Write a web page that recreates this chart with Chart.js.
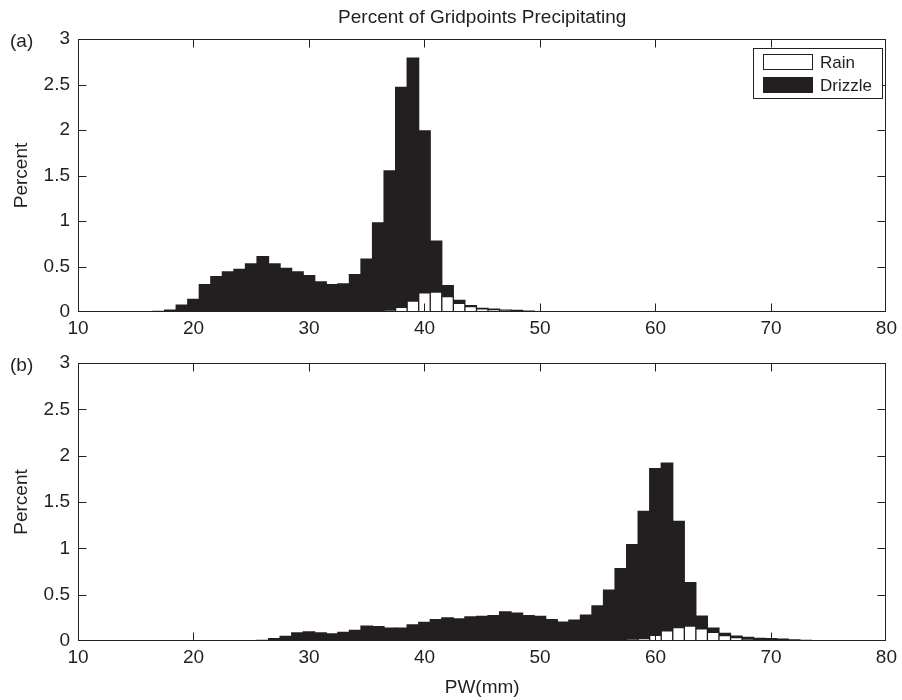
<!DOCTYPE html>
<html>
<head>
<meta charset="utf-8">
<title>Percent of Gridpoints Precipitating</title>
<script src="https://cdn.jsdelivr.net/npm/chart.js@4.4.1/dist/chart.umd.min.js"></script>
<style>
  html, body { margin: 0; padding: 0; background: #ffffff; }
  #wrap { position: relative; width: 902px; height: 700px; }
  .panel { position: absolute; left: 0; width: 902px; }
  #panelA { top: 0; height: 340px; }
  #panelB { top: 340px; height: 360px; }
</style>
</head>
<body>
<div id="wrap">
  <div class="panel" id="panelA"><canvas id="chartA"></canvas></div>
  <div class="panel" id="panelB"><canvas id="chartB"></canvas></div>
</div>
<script>
// PW bin centres (mm), 1 mm bins
const pwBins = [
  10, 11, 12, 13, 14, 15, 16, 17, 18, 19,
  20, 21, 22, 23, 24, 25, 26, 27, 28, 29,
  30, 31, 32, 33, 34, 35, 36, 37, 38, 39,
  40, 41, 42, 43, 44, 45, 46, 47, 48, 49,
  50, 51, 52, 53, 54, 55, 56, 57, 58, 59,
  60, 61, 62, 63, 64, 65, 66, 67, 68, 69,
  70, 71, 72, 73, 74, 75, 76, 77, 78, 79,
  80
];
const xTicks = [10, 20, 30, 40, 50, 60, 70, 80];
const yTicks = [0, 0.5, 1, 1.5, 2, 2.5, 3];
const seriesNames = ['Rain', 'Drizzle'];

// Panel (a)
const drizzleA = [
  0, 0, 0, 0, 0, 0, 0, 0.007, 0.02, 0.077,
  0.14, 0.30, 0.39, 0.44, 0.47, 0.53, 0.61, 0.53, 0.48, 0.44,
  0.40, 0.33, 0.30, 0.31, 0.41, 0.58, 0.98, 1.55, 2.47, 2.79,
  1.99, 0.78, 0.29, 0.128, 0.07, 0.04, 0.033, 0.022, 0.018, 0.011,
  0.005, 0, 0, 0, 0, 0, 0, 0, 0, 0,
  0, 0, 0, 0, 0, 0, 0, 0, 0, 0,
  0, 0, 0, 0, 0, 0, 0, 0, 0, 0,
  0
];
const rainA = [
  0, 0, 0, 0, 0, 0, 0, 0, 0, 0,
  0, 0, 0, 0, 0, 0, 0, 0, 0, 0,
  0, 0, 0, 0, 0, 0, 0.005, 0.022, 0.05, 0.12,
  0.21, 0.22, 0.17, 0.095, 0.06, 0.035, 0.026, 0.018, 0.01, 0.005,
  0, 0, 0, 0, 0, 0, 0, 0, 0, 0,
  0, 0, 0, 0, 0, 0, 0, 0, 0, 0,
  0, 0, 0, 0, 0, 0, 0, 0, 0, 0,
  0
];

// Panel (b)
const drizzleB = [
  0, 0, 0, 0, 0, 0, 0, 0, 0, 0,
  0, 0, 0, 0, 0, 0.003, 0.007, 0.025, 0.05, 0.087,
  0.098, 0.087, 0.076, 0.094, 0.116, 0.16, 0.156, 0.14, 0.14, 0.174,
  0.20, 0.23, 0.25, 0.24, 0.26, 0.265, 0.275, 0.315, 0.30, 0.275,
  0.265, 0.23, 0.205, 0.225, 0.28, 0.38, 0.55, 0.78, 1.04, 1.40,
  1.86, 1.92, 1.29, 0.63, 0.27, 0.14, 0.083, 0.054, 0.04, 0.029,
  0.025, 0.02, 0.012, 0.008, 0.005, 0, 0, 0, 0, 0,
  0
];
const rainB = [
  0, 0, 0, 0, 0, 0, 0, 0, 0, 0,
  0, 0, 0, 0, 0, 0, 0, 0, 0, 0,
  0, 0, 0, 0, 0, 0, 0, 0, 0, 0,
  0, 0, 0, 0, 0, 0, 0, 0, 0, 0,
  0, 0, 0, 0, 0, 0, 0, 0.005, 0.018, 0.025,
  0.06, 0.11, 0.145, 0.16, 0.13, 0.094, 0.058, 0.036, 0.022, 0.011,
  0.007, 0.004, 0.002, 0, 0, 0, 0, 0, 0, 0,
  0
];

const INK = '#231f20';
const FAMILY = "'Liberation Sans', Arial, Helvetica, sans-serif";

Chart.defaults.font.family = FAMILY;
Chart.defaults.font.size = 19;
Chart.defaults.color = INK;

// empty bins are left out so they leave no stray marks on the axis
const toPoints = vals => pwBins
  .map((x, i) => ({ x: x, y: vals[i] }))
  .filter(p => p.y > 0);

const clamp = (v, lo, hi) => Math.min(Math.max(v, lo), hi);

// MATLAB-like box with inward ticks, panel letter, title and legend
const matlabAxes = {
  id: 'matlabAxes',
  afterDraw(chart, args, opts) {
    const ctx = chart.ctx;
    const a = chart.chartArea;
    const xs = chart.scales.x;
    const ys = chart.scales.y;
    const L = Math.round(a.left) + 0.5;
    const R = Math.round(a.right) - 0.5;
    const T = Math.round(a.top) + 0.5;
    const B = Math.round(a.bottom) - 0.5;

    ctx.save();
    ctx.strokeStyle = INK;
    ctx.lineWidth = 1;
    ctx.strokeRect(L, T, R - L, B - T);

    ctx.beginPath();
    xs.ticks.forEach(t => {
      const px = clamp(Math.round(xs.getPixelForValue(t.value)) + 0.5, L, R);
      ctx.moveTo(px, B); ctx.lineTo(px, B - 8);
      ctx.moveTo(px, T); ctx.lineTo(px, T + 8);
    });
    ys.ticks.forEach(t => {
      const py = clamp(Math.round(ys.getPixelForValue(t.value)) + 0.5, T, B);
      ctx.moveTo(L, py); ctx.lineTo(L + 8, py);
      ctx.moveTo(R, py); ctx.lineTo(R - 8, py);
    });
    ctx.stroke();

    ctx.fillStyle = INK;
    ctx.font = '19px ' + FAMILY;
    ctx.textBaseline = 'middle';
    ctx.textAlign = 'left';
    ctx.fillText(opts.letter, 10, a.top + 3);

    if (opts.title) {
      ctx.textAlign = 'center';
      ctx.fillText(opts.title, (a.left + a.right) / 2, 18);
    }

    if (opts.legend) {
      const lg = { x: 753, y: 48, w: 129, h: 50 };
      ctx.fillStyle = '#ffffff';
      ctx.fillRect(lg.x, lg.y, lg.w, lg.h);
      ctx.strokeRect(lg.x + 0.5, lg.y + 0.5, lg.w, lg.h);
      ctx.font = '17px ' + FAMILY;
      chart.data.datasets.forEach((ds, i) => {
        const cy = lg.y + 14 + i * 23;
        ctx.fillStyle = ds.backgroundColor;
        ctx.fillRect(763, cy - 8, 50, 16);
        ctx.strokeRect(763.5, cy - 7.5, 49, 15);
        ctx.fillStyle = INK;
        ctx.textAlign = 'left';
        ctx.fillText(ds.label, 820, cy + 1);
      });
    }
    ctx.restore();
  }
};

function makePanel(canvasId, rain, drizzle, cfg) {
  return new Chart(document.getElementById(canvasId), {
    type: 'bar',
    data: {
      datasets: [
        {
          label: seriesNames[0],
          data: toPoints(rain),
          backgroundColor: '#ffffff',
          borderColor: INK,
          borderWidth: 1,
          grouped: false,
          categoryPercentage: 1,
          barPercentage: 1
        },
        {
          label: seriesNames[1],
          data: toPoints(drizzle),
          backgroundColor: INK,
          borderWidth: 0,
          inflateAmount: 0.6,
          grouped: false,
          categoryPercentage: 1,
          barPercentage: 1
        }
      ]
    },
    options: {
      responsive: true,
      maintainAspectRatio: false,
      animation: false,
      events: [],
      layout: { padding: { top: cfg.padTop, right: 13, left: 0, bottom: 0 } },
      plugins: {
        legend: { display: false },
        tooltip: { enabled: false },
        title: { display: false },
        matlabAxes: { letter: cfg.letter, title: cfg.title, legend: cfg.legend }
      },
      scales: {
        x: {
          type: 'linear',
          min: 10,
          max: 80,
          offset: false,
          grid: { display: false, drawTicks: false, offset: false },
          border: { display: false },
          afterBuildTicks: s => { s.ticks = xTicks.map(v => ({ value: v })); },
          afterFit: s => { s.height = cfg.xHeight; },
          ticks: { padding: 5, maxRotation: 0, autoSkip: false, color: INK },
          title: {
            display: !!cfg.xTitle,
            text: cfg.xTitle || '',
            color: INK,
            font: { size: 19 },
            padding: { top: 0, bottom: 1 }
          }
        },
        y: {
          min: 0,
          max: 3,
          grid: { display: false, drawTicks: false },
          border: { display: false },
          afterBuildTicks: s => { s.ticks = yTicks.map(v => ({ value: v })); },
          afterFit: s => { s.width = 78; },
          ticks: { padding: 8, color: INK, callback: v => String(v) },
          title: {
            display: true,
            text: 'Percent',
            color: INK,
            font: { size: 19 },
            padding: { top: 10, bottom: 0 }
          }
        }
      }
    },
    plugins: [matlabAxes]
  });
}

makePanel('chartA', rainA, drizzleA, {
  letter: '(a)', title: 'Percent of Gridpoints Precipitating', legend: true,
  padTop: 39, xHeight: 28
});
makePanel('chartB', rainB, drizzleB, {
  letter: '(b)', legend: false, xTitle: 'PW(mm)',
  padTop: 23, xHeight: 59
});
</script>
</body>
</html>
